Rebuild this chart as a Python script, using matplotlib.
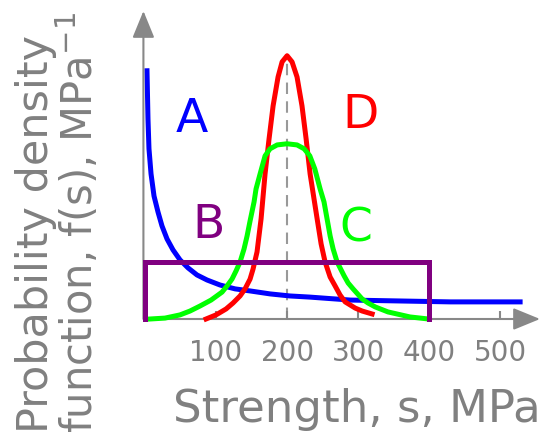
import numpy as np
import matplotlib
matplotlib.use("Agg")
import matplotlib.pyplot as plt

# strength s (MPa) and probability density (x1e-3 per MPa)
a_s = [2.8, 4.2, 5.6, 8.5, 12.7, 18.3, 23.9, 31, 39.4, 49.3, 60.6, 73.2, 87.3, 105.6, 126.8,
       147.9, 176, 204, 232, 289, 359, 430, 528]
a_f = [10.88, 8.77, 7.46, 6.36, 5.39, 4.69, 4.08, 3.51, 3.03, 2.59, 2.24, 1.93, 1.71, 1.49,
       1.32, 1.23, 1.10, 1.01, 0.96, 0.83, 0.79, 0.75, 0.75]

b_s = [0, 0, 400, 400]
b_f = [0, 2.5, 2.5, 0]

c_s = [7, 28.2, 49.3, 63.4, 77.5, 93, 108.5, 115.5, 122.5, 128.2, 133.8, 139.4, 143.7, 147.9,
       153.5, 156.3, 162, 169, 176, 186, 200, 214, 224, 232, 239, 246.5, 252, 260.6, 264.8,
       270.4, 280.3, 285.9, 292.9, 305.6, 314, 324, 342, 373, 399]
c_f = [0, 0.04, 0.18, 0.35, 0.57, 0.83, 1.18, 1.45, 1.75, 2.11, 2.5, 3.07, 3.64, 4.30, 5.13,
       5.70, 6.36, 7.15, 7.46, 7.63, 7.68, 7.63, 7.46, 7.15, 6.58, 5.70, 5.13, 3.64, 3.07,
       2.5, 1.89, 1.58, 1.32, 0.88, 0.70, 0.53, 0.31, 0.09, 0]

d_s = [85.9, 100, 114.1, 123.9, 133.8, 140.8, 147.9, 152.1, 157.7, 163.4, 169, 174.6, 180.3,
       187.3, 193, 200, 207, 214, 221, 226.8, 232.4, 242.3, 247.9, 253.5, 260.6, 267.6, 274.6,
       281.7, 295.8, 305.6, 319.7]
d_f = [0, 0.18, 0.44, 0.70, 1.01, 1.32, 1.75, 2.19, 2.94, 4.39, 6.36, 7.89, 9.34, 10.61, 11.27,
       11.54, 11.27, 10.61, 9.34, 7.89, 6.36, 4.39, 3.29, 2.5, 1.84, 1.45, 1.05, 0.75, 0.48,
       0.35, 0.22]

xticks = [100, 200, 300, 400, 500]

gray = "#808080"
lw = 3.6

fig = plt.figure(figsize=(5.46, 4.35), dpi=100)
ax = fig.add_axes([145 / 546, 115 / 435, 395 / 546, 308 / 435])
ax.set_xlim(0, 556)
ax.set_ylim(0, 13.5)
for sp in ax.spines.values():
    sp.set_visible(False)

# axes with arrow heads
arrow = dict(arrowstyle="-|>,head_length=0.83,head_width=0.34", color="#888888",
             lw=1.5, shrinkA=0, shrinkB=0, mutation_scale=20)
ax.annotate("", xy=(1, 0), xytext=(0, 0), xycoords="axes fraction", arrowprops=arrow,
            annotation_clip=False)
ax.annotate("", xy=(-0.004, 1), xytext=(-0.004, 0), xycoords="axes fraction", arrowprops=arrow,
            annotation_clip=False)

ax.set_xticks(xticks)
ax.set_xticklabels([str(t) for t in xticks])
ax.set_yticks([])
ax.tick_params(axis="x", direction="in", length=6, width=1.5, color="#888888",
               labelcolor=gray, labelsize=20, pad=14)

# dashed line at the peak of D
i = int(np.argmax(d_f))
ax.plot([d_s[i], d_s[i]], [0, d_f[i]], color="#999999", lw=1.5, dashes=(5.5, 3.5), zorder=1)

kw = dict(lw=lw, clip_on=False, solid_joinstyle="round")
ax.plot(a_s, a_f, color="#0000ff", zorder=2, **kw)
ax.plot(d_s, d_f, color="#ff0000", zorder=3, **kw)
ax.plot(c_s, c_f, color="#00ff00", zorder=4, **kw)
ax.plot(b_s, b_f, color="#800080", zorder=5, lw=lw, clip_on=False, solid_joinstyle="miter")

ax.text(66, 8.25, "A", color="#0000ff", fontsize=34, ha="center", va="baseline")
ax.text(89, 3.6, "B", color="#800080", fontsize=34, ha="center", va="baseline")
ax.text(297, 3.42, "C", color="#00ff00", fontsize=34, ha="center", va="baseline")
ax.text(303, 8.42, "D", color="#ff0000", fontsize=34, ha="center", va="baseline")

ax.set_xlabel("Strength, s, MPa", fontsize=32.5, color=gray)
ax.xaxis.set_label_coords(0.537, -0.222)

fig.text(15 / 546, 2 / 435, "Probability density", rotation=90, fontsize=31, color=gray,
         ha="left", va="bottom")
fig.text(55 / 546, 2 / 435, "function, f(s), MPa$^{-1}$", rotation=90, fontsize=30, color=gray,
         ha="left", va="bottom")

fig.savefig("out.png", dpi=100)
